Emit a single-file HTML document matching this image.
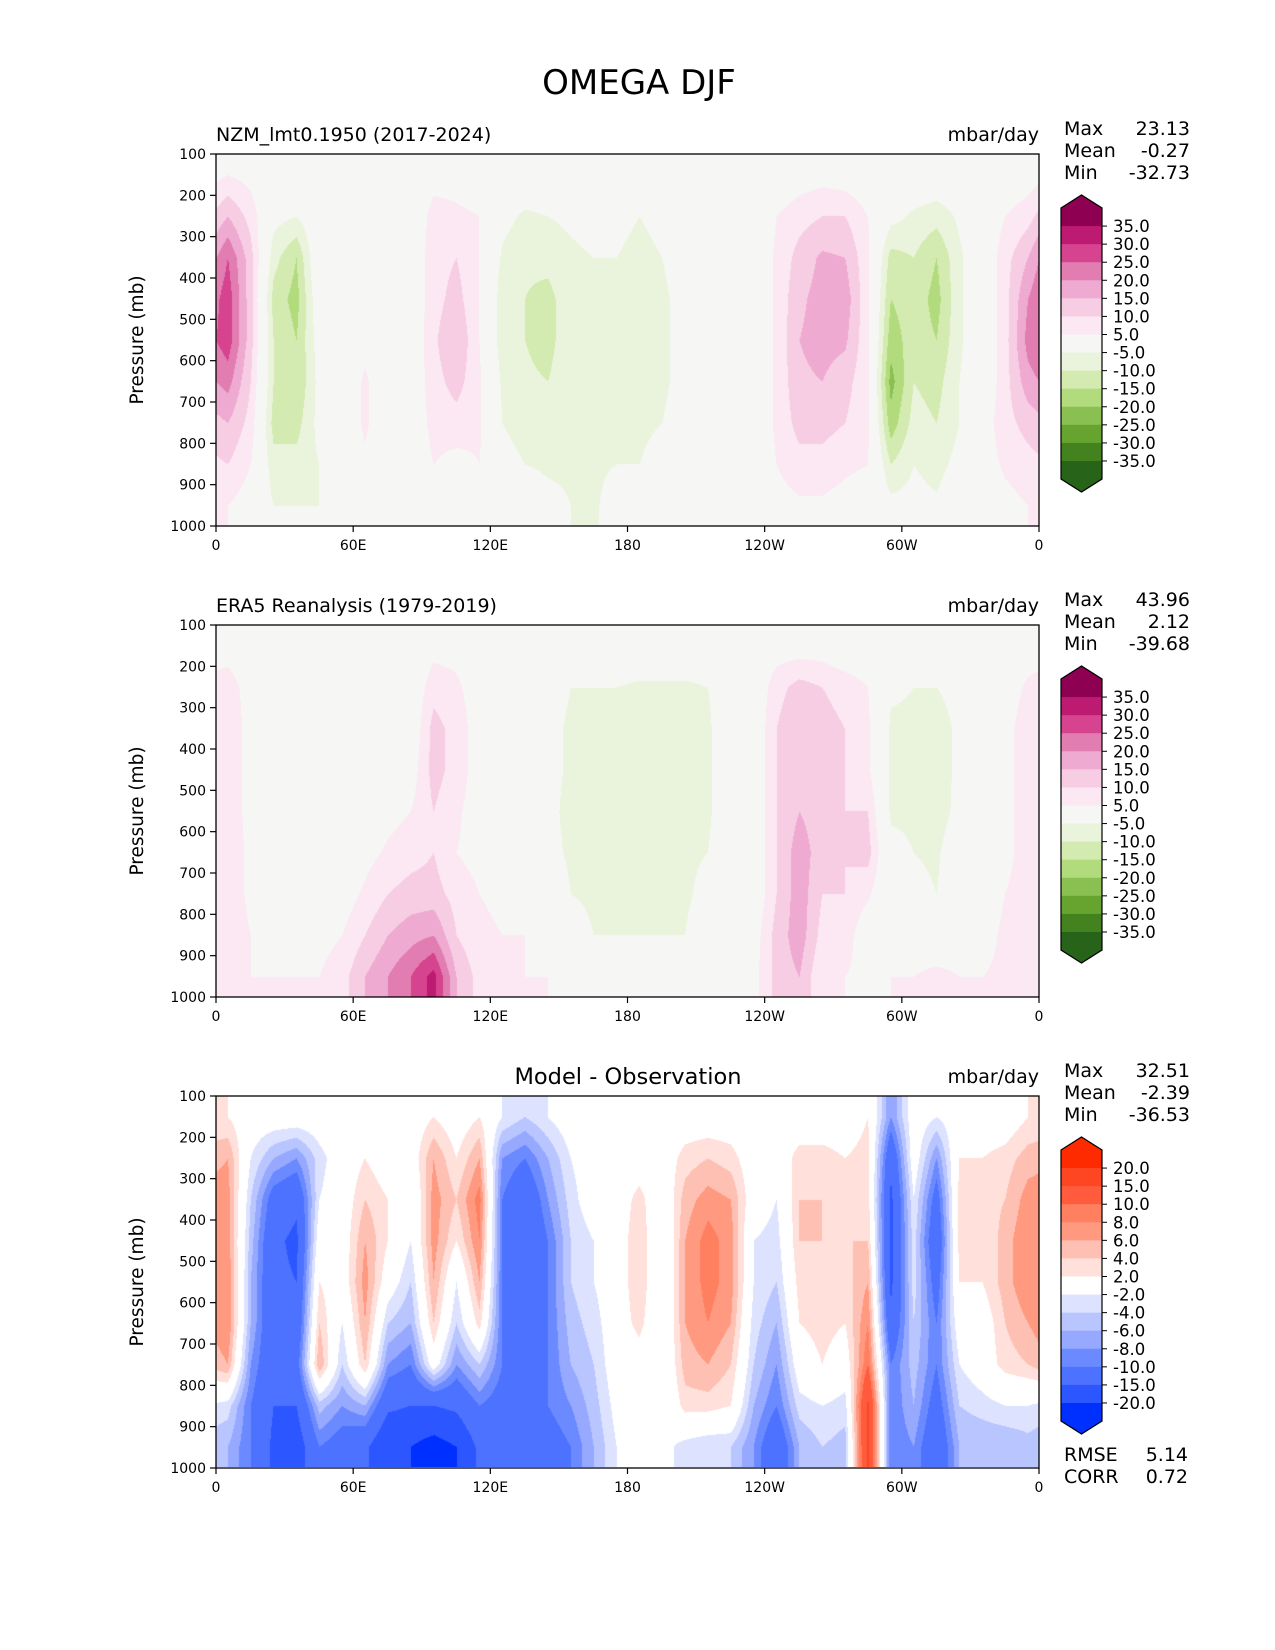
<!DOCTYPE html>
<html><head><meta charset="utf-8"><style>
body{margin:0;background:#fff;}
#wrap{position:relative;width:1275px;height:1650px;overflow:hidden;background:#fff;font-family:"DejaVu Sans","Liberation Sans",sans-serif;}
canvas{position:absolute;}
svg{position:absolute;left:0;top:0;}
</style></head><body>
<div id="wrap">
<canvas id="c0" width="823" height="372" style="left:216px;top:154px"></canvas>
<canvas id="c1" width="823" height="372" style="left:216px;top:625px"></canvas>
<canvas id="c2" width="823" height="371" style="left:216px;top:1096px"></canvas>
<svg id="svg" width="1275" height="1650"></svg>
</div>
<script>
const lonCenters=[5,15,25,35,45,55,65,75,85,95,105,115,125,135,145,155,165,175,185,195,205,215,225,235,245,255,265,275,285,295,305,315,325,335,345,355];
const pLevels=[150,250,350,450,550,650,750,850,950];
const model=[[5,15,25,28,28,22,15,10,5],[3,8,12,12,12,10,8,5,2],[0,-3,-8,-12,-10,-10,-12,-8,-5],[0,-5,-15,-17,-15,-15,-12,-8,-5],[0,0,2,0,-2,-3,-3,-5,-5],[0,0,0,0,0,0,0,0,-2],[0,0,0,0,3,6,6,4,0],[0,0,0,0,0,0,0,0,0],[0,0,0,0,0,0,0,0,0],[3,7,8,8,9,8,7,5,0],[3,6,10,12,15,12,8,3,0],[2,5,5,5,5,6,6,5,0],[0,-3,-6,-8,-8,-6,-5,-3,0],[0,-6,-9,-10,-10,-9,-7,-5,0],[0,-5,-8,-12,-12,-10,-8,-6,-3],[0,-4,-6,-6,-6,-6,-6,-6,-5],[0,-3,-5,-6,-6,-6,-6,-6,-6],[0,-4,-5,-5,-5,-5,-5,-5,-2],[0,-5,-6,-6,-6,-6,-6,-5,0],[0,-4,-5,-6,-6,-6,-5,-3,0],[0,0,-2,-3,-3,-3,-2,0,0],[0,0,0,0,0,0,0,0,0],[0,0,0,0,0,0,0,0,0],[0,0,0,0,0,0,0,0,0],[0,5,6,6,6,6,6,5,3],[2,8,12,14,15,14,12,8,4],[3,10,16,17,17,15,12,8,4],[2,10,15,18,16,12,10,6,3],[0,5,6,6,6,6,6,5,2],[0,-3,-12,-15,-18,-22,-18,-10,-3],[0,-6,-10,-12,-12,-10,-8,-5,-3],[0,-8,-15,-17,-15,-12,-10,-7,-4],[0,-4,-6,-6,-6,-5,-5,-3,0],[0,0,0,0,0,0,2,2,0],[0,5,8,8,8,8,8,6,3],[2,8,15,20,22,18,12,8,5]];
const obs=[[2,8,10,10,10,10,10,10,10],[0,2,2,2,2,3,3,5,5],[0,0,0,0,0,0,0,3,5],[0,0,0,0,0,0,2,3,5],[0,0,0,0,0,0,0,3,5],[0,0,0,0,0,0,2,5,8],[0,0,0,0,0,3,6,10,15],[0,0,0,0,3,6,10,15,20],[0,0,0,2,5,8,12,18,25],[3,8,12,12,10,10,12,20,32],[3,6,8,8,6,5,8,10,15],[0,2,2,2,2,3,5,6,8],[0,0,0,0,0,2,4,5,6],[0,0,0,0,0,0,3,5,5],[0,-2,-3,-3,-3,-3,0,3,5],[0,-5,-6,-6,-7,-6,-5,-2,3],[0,-5,-6,-7,-9,-8,-6,-5,0],[0,-5,-6,-6,-6,-6,-6,-5,0],[0,-6,-6,-6,-6,-6,-6,-5,0],[0,-6,-6,-6,-6,-6,-6,-5,0],[0,-6,-6,-6,-6,-6,-6,-5,0],[0,-5,-6,-6,-6,-5,-3,0,0],[0,0,0,0,0,0,0,0,2],[0,0,0,0,0,0,0,2,3],[2,8,10,10,10,10,10,12,12],[2,12,15,15,15,18,18,18,15],[2,10,12,12,12,12,10,8,5],[0,8,10,10,10,10,10,8,5],[0,5,6,6,10,12,6,0,3],[0,-4,-6,-6,-6,-3,-2,2,5],[0,-5,-6,-6,-6,-5,-3,3,5],[0,-5,-9,-9,-8,-6,-5,2,6],[0,-2,-3,-3,-3,0,0,3,5],[0,0,0,0,0,0,2,3,5],[0,2,3,3,3,3,5,6,6],[2,6,8,8,8,8,8,8,8]];
const diff=[[2,6,7,7,8,8,6,-3,-6],[0,-2,-4,-5,-6,-6,-8,-10,-10],[0,-6,-12,-14,-14,-14,-14,-15,-16],[0,-8,-14,-16,-15,-14,-12,-15,-18],[0,-3,-2,0,2,4,6,-5,-10],[0,0,0,0,0,-2,-4,-8,-12],[0,2,4,6,7,6,4,-6,-14],[0,0,2,2,0,-4,-8,-14,-20],[0,0,-2,-2,-4,-6,-10,-15,-20],[2,6,7,7,6,4,0,-15,-22],[0,2,4,2,-2,-4,-8,-14,-20],[2,6,9,8,6,3,-4,-10,-14],[-2,-8,-10,-10,-10,-10,-10,-12,-14],[-4,-10,-14,-15,-15,-14,-12,-12,-14],[-2,-6,-8,-10,-10,-10,-10,-10,-12],[0,-2,-3,-4,-4,-5,-6,-8,-10],[0,0,0,-2,-2,-3,-4,-5,-6],[0,0,0,0,0,0,0,-1,-2],[0,0,3,4,4,3,0,0,0],[0,0,-1,-2,-2,-2,-2,-2,-1],[0,3,5,6,6,6,5,3,-3],[0,4,7,9,9,8,6,3,-4],[0,3,6,7,7,6,4,2,-4],[0,0,0,-2,-2,-3,-4,-6,-8],[0,0,-2,-3,-4,-6,-8,-10,-14],[0,3,4,4,3,2,0,-3,-6],[0,3,4,4,4,3,2,-2,-4],[0,2,3,4,3,2,0,-3,-5],[2,3,3,4,6,8,10,16,16],[-8,-14,-16,-16,-16,-14,-10,-10,-10],[0,0,-2,-3,-3,-4,-5,-6,-8],[-2,-8,-12,-14,-12,-10,-10,-12,-14],[0,2,3,3,2,0,-2,-4,-6],[0,2,3,2,2,0,0,-3,-6],[0,3,4,5,5,4,3,-2,-6],[2,5,7,8,8,6,4,-2,-5]];
const fieldLevels=[35,30,25,20,15,10,5,-5,-10,-15,-20,-25,-30,-35];
const diffLevels=[20,15,10,8,6,4,2,-2,-4,-6,-8,-10,-15,-20];
const fieldColors=["#8e0152","#bd1a72","#d6438e","#e17db1","#eeaad0","#f7cde4","#fbe8f2","#f6f6f4","#eaf4dc","#d3ebb0","#b1db7c","#8abf51","#67a32f","#43821f","#276419"];
const diffColors=["#fe2a00","#ff4622","#ff5b3c","#ff8060","#ff9a80","#ffc0b4","#ffe0da","#ffffff","#dde3ff","#b8c5ff","#96a9ff","#6b8aff","#4d72ff","#2c56ff","#0030ff"];
const yTicks=[100,200,300,400,500,600,700,800,900,1000];
const xTickLon=[0,60,120,180,240,300,360];
const xTickLabels=["0","60E","120E","180","120W","60W","0"];
const stats=[["23.13","-0.27","-32.73"],["43.96","2.12","-39.68"],["32.51","-2.39","-36.53"]];
const titles=["NZM_lmt0.1950 (2017-2024)","ERA5 Reanalysis (1979-2019)","Model - Observation"];

const X0=216,W=823,H=372;
const tops=[154,625,1096];
const xOf=lon=>X0+lon/360*W;
const yOf=(p,top)=>top+(p-100)/900*H;
function hex(c){return [parseInt(c.slice(1,3),16),parseInt(c.slice(3,5),16),parseInt(c.slice(5,7),16)];}
function bin(v,levels){let n=0;for(const l of levels) if(v<l) n++;return n;}
function sample(grid,lon,p){
  let fi=(lon-5)/10; let i0=Math.floor(fi); const t=fi-i0;
  const n=grid.length; const a=((i0%n)+n)%n, b=(a+1)%n;
  let fj=(p-150)/100; fj=Math.max(0,Math.min(pLevels.length-1,fj));
  const j0=Math.min(pLevels.length-2,Math.floor(fj)); const u=fj-j0;
  const v00=grid[a][j0],v01=grid[a][j0+1],v10=grid[b][j0],v11=grid[b][j0+1];
  return (1-t)*((1-u)*v00+u*v01)+t*((1-u)*v10+u*v11);
}
function drawField(id,grid,levels,colors){
  const cv=document.getElementById(id),ctx=cv.getContext('2d');
  const w=cv.width,h=cv.height,img=ctx.createImageData(w,h);
  const rgb=colors.map(hex);
  for(let y=0;y<h;y++){const p=100+y/h*900;
    for(let x=0;x<w;x++){const lon=x/w*360;
      const c=rgb[bin(sample(grid,lon,p),levels)];const k=(y*w+x)*4;
      img.data[k]=c[0];img.data[k+1]=c[1];img.data[k+2]=c[2];img.data[k+3]=255;}}
  ctx.putImageData(img,0,0);
}
drawField('c0',model,fieldLevels,fieldColors);
drawField('c1',obs,fieldLevels,fieldColors);
drawField('c2',diff,diffLevels,diffColors);

const svg=document.getElementById('svg');const NS="http://www.w3.org/2000/svg";
function mk(tag,attrs,name,parent){const e=document.createElementNS(NS,tag);for(const k in attrs)e.setAttribute(k,attrs[k]);


(parent||svg).appendChild(e);return e;}
function txt(s,x,y,size,anchor,name,extra){const t=mk('text',Object.assign({x:x,y:y,'font-size':size,'text-anchor':anchor||'start',fill:'#000','font-family':'DejaVu Sans, Liberation Sans, sans-serif'},extra||{}),name);t.textContent=s;return t;}

txt("OMEGA DJF",639,94,34,'middle','figure-title');
for(let k=0;k<3;k++){
  const top=tops[k],off=k*471;
  mk('rect',{x:X0,y:top,width:W,height:H,fill:'none',stroke:'#000','stroke-width':1.3},'plot-frame-'+k);
  yTicks.forEach(p=>{const y=yOf(p,top);
    mk('line',{x1:X0-6,x2:X0,y1:y,y2:y,stroke:'#000','stroke-width':1.2},'y-tick');
    txt(String(p),X0-10,y+5,14,'end','y-tick-label');});
  xTickLon.forEach((l,i)=>{const x=xOf(l);
    mk('line',{x1:x,x2:x,y1:top+H,y2:top+H+6,stroke:'#000','stroke-width':1.2},'x-tick');
    txt(xTickLabels[i],x,top+H+24,14,'middle','x-tick-label');});
  txt("Pressure (mb)",0,0,18.5,'middle','y-axis-title',{transform:`translate(143,${top+H/2}) rotate(-90)`});
  if(k<2) txt(titles[k],X0,141+off,19,'start','panel-title');
  else txt(titles[k],628,1084,22.5,'middle','panel-title');
  txt("mbar/day",1039,141+off,19,'end','units-label');
  ["Max","Mean","Min"].forEach((s,i)=>{txt(s,1064,135+off+i*22,19,'start','stat-name');txt(stats[k][i],1190,135+off+i*22,19,'end','stat-value');});
  const cols=k<2?fieldColors:diffColors, labs=k<2?fieldLevels:diffLevels;
  const cx0=1061,cx1=1102,ry0=208+off,seg=18.07,ry1=ry0+15*seg;
  mk('polygon',{points:`${cx0},${ry0} ${(cx0+cx1)/2},${ry0-13} ${cx1},${ry0}`,fill:cols[0]},'colorbar-extend-top');
  mk('polygon',{points:`${cx0},${ry1} ${(cx0+cx1)/2},${ry1+13} ${cx1},${ry1}`,fill:cols[14]},'colorbar-extend-bottom');
  cols.forEach((c,i)=>mk('rect',{x:cx0,y:ry0+i*seg,width:cx1-cx0,height:seg+0.5,fill:c},'colorbar-swatch'));
  mk('polygon',{points:`${cx0},${ry0} ${(cx0+cx1)/2},${ry0-13} ${cx1},${ry0} ${cx1},${ry1} ${(cx0+cx1)/2},${ry1+13} ${cx0},${ry1}`,fill:'none',stroke:'#000','stroke-width':1.2},'colorbar-outline');
  labs.forEach((l,i)=>{const y=ry0+(i+1)*seg;
    mk('line',{x1:cx1,x2:cx1+5,y1:y,y2:y,stroke:'#000','stroke-width':1},'colorbar-tick');
    txt(l.toFixed(1),1113,y+6,16.5,'start','colorbar-label');});
}
txt("RMSE",1064,1461,19,'start','rmse-label');txt("5.14",1188,1461,19,'end','rmse-value');
txt("CORR",1064,1483,19,'start','corr-label');txt("0.72",1188,1483,19,'end','corr-value');
</script>
</body></html>
